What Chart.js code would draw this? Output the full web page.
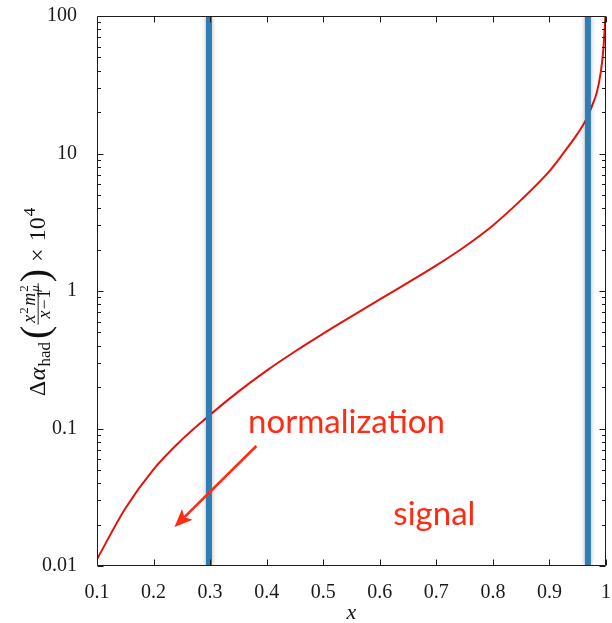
<!DOCTYPE html>
<html>
<head>
<meta charset="utf-8">
<script src="https://cdn.jsdelivr.net/npm/chart.js@4.4.1/dist/chart.umd.min.js"></script>
<style>
  html, body { margin: 0; padding: 0; background: #fff; }
  #caja { width: 612px; height: 623px; }
</style>
</head>
<body>
<div id="caja"><canvas id="grafico" width="612" height="623"></canvas></div>
<script>
  // curva Δα_had(x² m_μ² / (x-1)) × 10^4
  const xValues = [0.1, 0.15, 0.2, 0.25, 0.3, 0.35, 0.4, 0.45, 0.5, 0.55, 0.6, 0.65, 0.7, 0.75,
    0.8, 0.85, 0.9, 0.925, 0.95, 0.965, 0.975, 0.9835, 0.9906, 0.9953, 0.998, 1.0];
  const deltaAlpha = [0.0112, 0.0262, 0.0505, 0.083, 0.126, 0.1855, 0.2636, 0.363, 0.49, 0.653, 0.868, 1.15, 1.535, 2.1,
    3.0, 4.6, 7.45, 10.1, 14.0, 17.7, 22, 27.6, 38.6, 57, 85, 120];

  // cortes en x
  const cuts = [0.298, 0.968];

  const xTicks = [0.1, 0.2, 0.3, 0.4, 0.5, 0.6, 0.7, 0.8, 0.9, 1];
  const xTickLabels = ["0.1", "0.2", "0.3", "0.4", "0.5", "0.6", "0.7", "0.8", "0.9", "1"];
  const yTicks = [0.01, 0.1, 1, 10, 100];
  const yTickLabels = ["0.01", "0.1", "1", "10", "100"];

  // etiquetas y flecha (coordenadas de datos)
  const notes = [
    { text: "normalization", x: 0.367, y: 0.092 },
    { text: "signal", x: 0.624, y: 0.0198 }
  ];
  const arrowFrom = [0.3818, 0.0746];
  const arrowTo = [0.237, 0.0192];

  const ROJO = "#e3120b";
  const NOTA = "#ff2b12";
  const AZUL = "#2f7db5";
  const SERIF = '"Liberation Serif", "Times New Roman", serif';

  // marco y marcas hacia dentro en los cuatro lados
  const marco = {
    id: "marco",
    afterDatasetsDraw(chart) {
      const { ctx, chartArea: a, scales: { x, y } } = chart;
      const L = Math.round(a.left) + 0.5, R = Math.round(a.right) - 0.5;
      const T = Math.round(a.top) + 0.5, B = Math.round(a.bottom) - 0.5;
      ctx.save();
      ctx.strokeStyle = "#1c1c1c";
      ctx.lineWidth = 1;
      ctx.beginPath();
      ctx.rect(L, T, R - L, B - T);
      xTicks.forEach((v) => {
        const px = Math.round(x.getPixelForValue(v)) + 0.5;
        ctx.moveTo(px, B); ctx.lineTo(px, B - 6);
        ctx.moveTo(px, T); ctx.lineTo(px, T + 6);
      });
      for (let d = -2; d < 2; d++) {
        for (let k = 1; k < 10; k++) {
          const py = Math.round(y.getPixelForValue(k * Math.pow(10, d))) + 0.5;
          const len = k === 1 ? 6 : 3.5;
          ctx.moveTo(L, py); ctx.lineTo(L + len, py);
          ctx.moveTo(R, py); ctx.lineTo(R - len, py);
        }
      }
      ctx.stroke();
      ctx.restore();
    }
  };

  // sombra suave de las bandas azules
  const sombra = {
    id: "sombra",
    beforeDatasetDraw(chart, args) {
      if (!chart.data.datasets[args.index].esCorte) return;
      const ctx = chart.ctx;
      ctx.save();
      ctx.shadowColor = "rgba(0,0,0,0.3)";
      ctx.shadowBlur = 5;
    },
    afterDatasetDraw(chart, args) {
      if (!chart.data.datasets[args.index].esCorte) return;
      chart.ctx.restore();
    }
  };

  function tituloY(ctx, cx, cy) {
    const S = 24, F = 18, s = 13;
    const fnt = (size, it) => (it ? "italic " : "") + size + "px " + SERIF;
    const w = (t, f) => { ctx.font = f; return ctx.measureText(t).width; };

    // numerador x^2 m_mu^2
    const num = [
      { t: "x", f: fnt(F, true), du: 0, dv: 0 },
      { t: "2", f: fnt(s, false), du: 1, dv: -7 },
      { t: "m", f: fnt(F, true), du: 1.5, dv: 0 },
      { t: "2", f: fnt(s, false), du: 1, dv: -7, pila: true },
      { t: "μ", f: fnt(s, true), du: 1, dv: 4 }
    ];
    let nw = 0;
    num.forEach((p) => {
      p.u = nw + p.du;
      const ww = w(p.t, p.f);
      if (!p.pila) nw = p.u + ww; else { p.ancho = ww; }
    });
    nw = Math.max(nw, num[3].u + num[3].ancho);
    const den = [
      { t: "x", f: fnt(F, true), du: 0 },
      { t: "−", f: fnt(F, false), du: 1 },
      { t: "1", f: fnt(F, false), du: 1 }
    ];
    let dw = 0;
    den.forEach((p) => { p.u = dw + p.du; dw = p.u + w(p.t, p.f); });
    const fw = Math.max(nw, dw) + 4;

    const partes = [
      { t: "Δ", f: fnt(S, false), dv: 0, gap: 0 },
      { t: "α", f: fnt(S, true), dv: 0, gap: 0.5 },
      { t: "had", f: fnt(17, false), dv: 5, gap: 1 },
      { t: "(", f: fnt(40, false), dv: 2.5, gap: 3 },
      { frac: true, gap: 1 },
      { t: ")", f: fnt(40, false), dv: 2.5, gap: 1 },
      { t: "×", f: fnt(S, false), dv: 0, gap: 7 },
      { t: "10", f: fnt(S, false), dv: 0, gap: 7 },
      { t: "4", f: fnt(17, false), dv: -10, gap: 1 }
    ];
    let total = 0;
    partes.forEach((p) => {
      total += p.gap;
      p.u = total;
      p.ancho = p.frac ? fw : w(p.t, p.f);
      total += p.ancho;
    });

    ctx.save();
    ctx.translate(cx, cy);
    ctx.rotate(-Math.PI / 2);
    ctx.fillStyle = "#111";
    ctx.textAlign = "left";
    ctx.textBaseline = "alphabetic";
    const u0 = -total / 2;
    partes.forEach((p) => {
      if (p.frac) {
        const fu = u0 + p.u;
        const nu = fu + (fw - nw) / 2, du = fu + (fw - dw) / 2;
        num.forEach((q) => { ctx.font = q.f; ctx.fillText(q.t, nu + q.u, -10 + q.dv); });
        den.forEach((q) => { ctx.font = q.f; ctx.fillText(q.t, du + q.u, 4.5); });
        ctx.fillRect(fu, -7.3, fw, 0.9);
      } else {
        ctx.font = p.f;
        ctx.fillText(p.t, u0 + p.u, p.dv);
      }
    });
    ctx.restore();
  }

  const anotaciones = {
    id: "anotaciones",
    afterDraw(chart) {
      const { ctx, chartArea: a, scales: { x, y } } = chart;
      ctx.save();
      // textos
      ctx.fillStyle = NOTA;
      ctx.font = '33px Lato, "Noto Sans", sans-serif';
      ctx.textAlign = "left";
      ctx.textBaseline = "alphabetic";
      notes.forEach((n) => ctx.fillText(n.text, x.getPixelForValue(n.x), y.getPixelForValue(n.y)));

      // flecha
      const x0 = x.getPixelForValue(arrowFrom[0]), y0 = y.getPixelForValue(arrowFrom[1]);
      const x1 = x.getPixelForValue(arrowTo[0]), y1 = y.getPixelForValue(arrowTo[1]);
      const ang = Math.atan2(y1 - y0, x1 - x0);
      const largo = 18, medio = 7.5;
      const bx = x1 - largo * Math.cos(ang), by = y1 - largo * Math.sin(ang);
      ctx.strokeStyle = NOTA;
      ctx.lineWidth = 2.6;
      ctx.beginPath();
      ctx.moveTo(x0, y0);
      ctx.lineTo(bx + 4 * Math.cos(ang), by + 4 * Math.sin(ang));
      ctx.stroke();
      const px = -Math.sin(ang), py = Math.cos(ang);
      ctx.beginPath();
      ctx.moveTo(x1, y1);
      ctx.lineTo(bx + medio * px, by + medio * py);
      ctx.lineTo(bx + 4 * Math.cos(ang), by + 4 * Math.sin(ang));
      ctx.lineTo(bx - medio * px, by - medio * py);
      ctx.closePath();
      ctx.fill();

      // títulos de los ejes
      ctx.fillStyle = "#111";
      ctx.font = "italic 22px " + SERIF;
      ctx.textAlign = "center";
      ctx.fillText("x", (a.left + a.right) / 2, 619);
      ctx.restore();

      tituloY(ctx, 45, 302);
    }
  };

  const curva = xValues.map((v, i) => ({ x: v, y: deltaAlpha[i] }));
  const bandas = cuts.map((c) => ({
    data: [{ x: c, y: yTicks[0] }, { x: c, y: yTicks[yTicks.length - 1] }],
    borderColor: AZUL,
    borderWidth: 6,
    pointRadius: 0,
    esCorte: true
  }));

  const ctx = document.getElementById("grafico").getContext("2d");
  new Chart(ctx, {
    type: "line",
    data: {
      datasets: [
        ...bandas,
        {
          data: curva,
          borderColor: ROJO,
          borderWidth: 2,
          pointRadius: 0,
          cubicInterpolationMode: "monotone"
        }
      ]
    },
    options: {
      responsive: false,
      animation: false,
      devicePixelRatio: 1,
      layout: { padding: { top: 16, right: 6, left: 0, bottom: 0 } },
      plugins: { legend: { display: false }, tooltip: { enabled: false } },
      scales: {
        x: {
          type: "linear",
          min: 0.1,
          max: 1,
          grid: { display: false },
          border: { display: false },
          afterBuildTicks: (s) => { s.ticks = xTicks.map((v) => ({ value: v })); },
          afterFit: (s) => { s.height = 57; s.paddingLeft = 0; s.paddingRight = 0; },
          ticks: {
            autoSkip: false,
            maxRotation: 0,
            padding: 7,
            color: "#1a1a1a",
            font: { family: SERIF, size: 20 },
            callback: (v, i) => xTickLabels[i]
          }
        },
        y: {
          type: "logarithmic",
          min: 0.01,
          max: 100,
          grid: { display: false },
          border: { display: false },
          afterBuildTicks: (s) => { s.ticks = yTicks.map((v) => ({ value: v })); },
          afterFit: (s) => { s.width = 97; s.paddingTop = 0; s.paddingBottom = 0; },
          ticks: {
            padding: 12,
            color: "#1a1a1a",
            font: { family: SERIF, size: 20 },
            callback: (v, i) => yTickLabels[i]
          }
        }
      }
    },
    plugins: [sombra, marco, anotaciones]
  });
</script>
</body>
</html>
